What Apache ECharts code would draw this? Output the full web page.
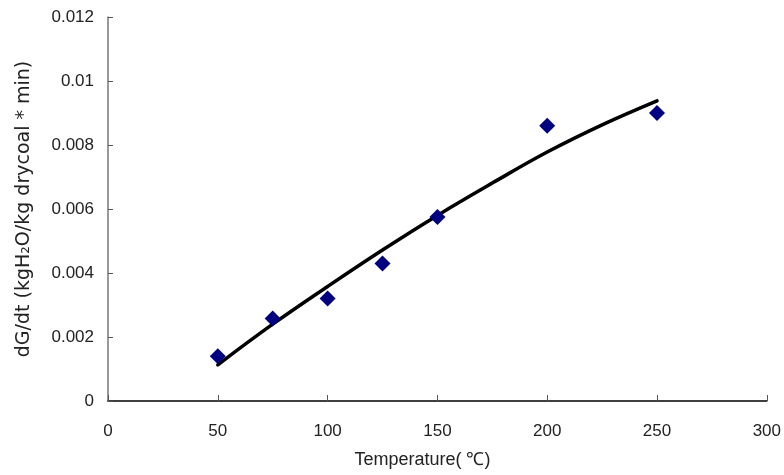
<!DOCTYPE html>
<html>
<head>
<meta charset="utf-8">
<script src="https://cdn.jsdelivr.net/npm/echarts@6/dist/echarts.min.js"></script>
<style>html,body{margin:0;padding:0;background:#fff;}#c{width:784px;height:475px;}</style>
</head>
<body>
<div id="c"></div>
<script>
const measuredT = [50, 75, 100, 125, 150, 200, 250];
const measuredRate = [0.0014, 0.00258, 0.0032, 0.0043, 0.00575, 0.0086, 0.0090];
const fitT = [50, 75, 100, 125, 150, 175, 200, 225, 250];
const fitRate = [0.00113, 0.00240, 0.00358, 0.00472, 0.00580, 0.00681, 0.00778, 0.00863, 0.00938];
const xTicks = [0, 50, 100, 150, 200, 250, 300];
const yTicks = [0, 0.002, 0.004, 0.006, 0.008, 0.01, 0.012];

const chart = echarts.init(document.getElementById('c'), null, {renderer: 'canvas'});
const font = 'Liberation Sans';
chart.setOption({
  animation: false,
  grid: {left: 108, right: 16, top: 17, bottom: 74},
  xAxis: {
    type: 'value', min: 0, max: 300, interval: 50,
    name: 'Temperature( ℃)', nameLocation: 'middle', nameGap: 50,
    nameTextStyle: {fontFamily: font, fontSize: 18, color: '#222', padding: [0, 30, 0, 0]},
    axisLine: {lineStyle: {color: '#000', width: 1.5}},
    axisTick: {inside: true, length: 6, lineStyle: {color: '#555'}},
    axisLabel: {fontFamily: font, fontSize: 17, color: '#222', margin: 22,
      formatter: v => xTicks.includes(v) ? String(v) : ''},
    splitLine: {show: false}
  },
  yAxis: {
    type: 'value', min: 0, max: 0.012, interval: 0.002,
    name: 'dG/dt (kgH₂O/kg drycoal * min)', nameLocation: 'middle', nameGap: 74,
    nameTextStyle: {fontFamily: 'DejaVu Sans', fontSize: 19, color: '#222'},
    axisLine: {lineStyle: {color: '#777', width: 1.5}},
    axisTick: {inside: true, length: 5, lineStyle: {color: '#555'}},
    axisLabel: {fontFamily: font, fontSize: 17, color: '#222', margin: 14,
      formatter: v => { const t = yTicks.find(k => Math.abs(k - v) < 1e-9); return t === undefined ? '' : String(+t.toFixed(3)); }},
    splitLine: {show: false}
  },
  series: [
    {
      type: 'line', data: fitT.map((t, i) => [t, fitRate[i]]),
      smooth: 0.4, showSymbol: false, symbol: 'none',
      lineStyle: {color: '#000', width: 3.5, cap: 'round'}, z: 2
    },
    {
      type: 'scatter', data: measuredT.map((t, i) => [t, measuredRate[i]]),
      symbol: 'diamond', symbolSize: 16,
      itemStyle: {color: '#000080', opacity: 1}, z: 3
    }
  ]
});
</script>
</body>
</html>
